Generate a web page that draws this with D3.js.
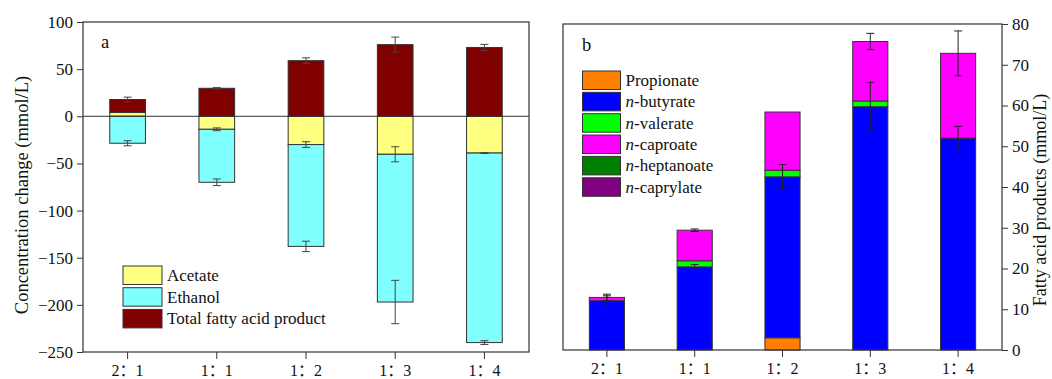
<!DOCTYPE html>
<html>
<head>
<meta charset="utf-8">
<script src="https://cdn.jsdelivr.net/npm/d3@7/dist/d3.min.js"></script>
<style>
  html, body { margin: 0; padding: 0; background: #fff; }
  svg { display: block; }
  text { font-family: "Liberation Serif", "Noto Sans CJK SC", serif; fill: #111; }
</style>
</head>
<body>
<svg id="chart" width="1052" height="379"></svg>
<script>
// ---- Data ----
const categories = ["2：1", "1：1", "1：2", "1：3", "1：4"];

// Panel a: concentration change (mmol/L)
const acetate  = [4.0, -13.8, -30.0, -40.3, -39.0];
const ethanol  = [-28.6, -56.2, -108.0, -156.7, -201.0];
const totalFA  = [13.8, 29.7, 59.0, 76.0, 73.0];
const acetateErr = [0, 1.5, 3.0, 8.0, 0.5];
const ethanolErr = [2.7, 3.5, 5.5, 23.0, 2.0];
const totalFAErr = [2.5, 0.7, 3.0, 8.0, 3.3];
const ticksA = [100, 50, 0, -50, -100, -150, -200, -250];

// Panel b: fatty acid products (mmol/L)
const propionate = [0, 0, 3.0, 0, 0];
const butyrate   = [12.1, 20.4, 39.5, 59.7, 52.0];
const valerate   = [0, 1.5, 1.6, 1.4, 0];
const caproate   = [0.8, 7.5, 14.3, 14.6, 20.8];
const heptanoate = [0, 0, 0, 0, 0];
const caprylate  = [0, 0, 0, 0, 0];
const butyrateErr = [1.2, 0.6, 3.0, 6.0, 2.9];
const topErrB     = [0.8, 0.3, 0, 2.0, 5.5];
const ticksB = [0, 10, 20, 30, 40, 50, 60, 70, 80];

// ---- Drawing ----
const svg = d3.select("#chart");
svg.append("rect").attr("width", 1052).attr("height", 379).attr("fill", "#fff");

const FS = 17;
const stroke = "#333";
const fontStack = '"Liberation Serif", "Noto Sans CJK SC", serif';

function errorBar(g, x, yScale, v, e, color) {
  if (!e) return;
  const y1 = yScale(v - e), y2 = yScale(v + e);
  g.append("line").attr("x1", x).attr("x2", x).attr("y1", y1).attr("y2", y2)
    .attr("stroke", color).attr("stroke-width", 1);
  [y1, y2].forEach(y => g.append("line").attr("x1", x - 4).attr("x2", x + 4)
    .attr("y1", y).attr("y2", y).attr("stroke", color).attr("stroke-width", 1));
}

function styleAxis(a) {
  a.select(".domain").remove();
  a.selectAll("line").attr("stroke", "#333");
  a.selectAll("text").attr("font-size", FS).attr("font-family", fontStack).attr("fill", "#111");
}

// category labels sit just above the bottom edge
function styleCatAxis(a) {
  styleAxis(a);
  a.selectAll("text").attr("font-size", 16).attr("dy", null).attr("y", 24);
}

// ===== Panel a =====
{
  const L = 83, R = 529, T = 22, B = 352;
  const x = d3.scaleBand().domain(categories).range([L, R]).paddingInner(0.6).paddingOuter(0.3);
  const y = d3.scaleLinear().domain([-250, 100]).range([B, T]);
  const g = svg.append("g");

  const keys = ["acetate", "ethanol", "total"];
  const colors = { acetate: "#FFFF80", ethanol: "#80FFFF", total: "#800000" };
  const rows = categories.map((c, i) => ({ cat: c, acetate: acetate[i], ethanol: ethanol[i], total: totalFA[i] }));
  const stack = d3.stack().keys(keys).offset(d3.stackOffsetDiverging)(rows);

  stack.forEach(s => {
    g.selectAll(null).data(s.filter(d => d[1] !== d[0])).enter().append("rect")
      .attr("x", d => x(d.data.cat))
      .attr("width", x.bandwidth())
      .attr("y", d => y(Math.max(d[0], d[1])))
      .attr("height", d => Math.abs(y(d[0]) - y(d[1])))
      .attr("fill", colors[s.key])
      .attr("stroke", stroke).attr("stroke-width", 1);
  });

  // zero line
  g.append("line").attr("x1", L).attr("x2", R).attr("y1", y(0)).attr("y2", y(0))
    .attr("stroke", "#333").attr("stroke-width", 1);

  // error bars at the outer end of each segment
  const errs = { acetate: acetateErr, ethanol: ethanolErr, total: totalFAErr };
  stack.forEach(s => {
    s.forEach((d, i) => {
      const v = rows[i][s.key];
      const end = v >= 0 ? d[1] : d[0];
      errorBar(g, x(d.data.cat) + x.bandwidth() / 2, y, end, errs[s.key][i], "#444");
    });
  });

  // frame
  g.append("rect").attr("x", L).attr("y", T).attr("width", R - L).attr("height", B - T)
    .attr("fill", "none").attr("stroke", "#333").attr("stroke-width", 1.2);

  const ay = g.append("g").attr("transform", `translate(${L},0)`)
    .call(d3.axisLeft(y).tickValues(ticksA).tickSize(6).tickPadding(4));
  const ax = g.append("g").attr("transform", `translate(0,${B})`)
    .call(d3.axisBottom(x).tickSize(7).tickPadding(4));
  styleAxis(ay);
  styleCatAxis(ax);

  g.append("text").attr("x", 101).attr("y", 47.5).attr("font-size", 18.5).text("a");

  g.append("text").attr("transform", `translate(28,195) rotate(-90)`)
    .attr("text-anchor", "middle").attr("font-size", 18.5)
    .text("Concentration change (mmol/L)");

  const legendA = [["Acetate", "acetate"], ["Ethanol", "ethanol"], ["Total fatty acid product", "total"]];
  legendA.forEach(([label, key], i) => {
    const yy = 266 + i * 21.7;
    g.append("rect").attr("x", 123).attr("y", yy).attr("width", 39).attr("height", 18.5)
      .attr("fill", colors[key]).attr("stroke", stroke).attr("stroke-width", 1);
    g.append("text").attr("x", 167).attr("y", yy + 15).attr("font-size", FS).text(label);
  });
}

// ===== Panel b =====
{
  const L = 563, R = 1002, T = 24, B = 350;
  const x = d3.scaleBand().domain(categories).range([L, R]).paddingInner(0.6).paddingOuter(0.3);
  const y = d3.scaleLinear().domain([0, 80]).range([B, T]);
  const g = svg.append("g");

  const series = [
    { key: "propionate", label: "Propionate", italic: false, color: "#FF8000", values: propionate },
    { key: "butyrate",   label: "-butyrate",  italic: true,  color: "#0000FF", values: butyrate },
    { key: "valerate",   label: "-valerate",  italic: true,  color: "#00FF00", values: valerate },
    { key: "caproate",   label: "-caproate",  italic: true,  color: "#FF00FF", values: caproate },
    { key: "heptanoate", label: "-heptanoate", italic: true, color: "#008000", values: heptanoate },
    { key: "caprylate",  label: "-caprylate", italic: true,  color: "#800080", values: caprylate }
  ];
  const rows = categories.map((c, i) => {
    const r = { cat: c };
    series.forEach(s => { r[s.key] = s.values[i]; });
    return r;
  });
  const stack = d3.stack().keys(series.map(s => s.key))(rows);

  stack.forEach((s, si) => {
    g.selectAll(null).data(s.filter(d => d[1] !== d[0])).enter().append("rect")
      .attr("x", d => x(d.data.cat))
      .attr("width", x.bandwidth())
      .attr("y", d => y(d[1]))
      .attr("height", d => y(d[0]) - y(d[1]))
      .attr("fill", series[si].color)
      .attr("stroke", stroke).attr("stroke-width", 1);
  });

  // error bars: n-butyrate segment top and total column top
  const butyrateStack = stack.find(s => s.key === "butyrate");
  const topStack = stack[stack.length - 1];
  categories.forEach((c, i) => {
    const cx = x(c) + x.bandwidth() / 2;
    errorBar(g, cx, y, butyrateStack[i][1], butyrateErr[i], "#222");
    errorBar(g, cx, y, topStack[i][1], topErrB[i], "#222");
  });

  g.append("rect").attr("x", L).attr("y", T).attr("width", R - L).attr("height", B - T)
    .attr("fill", "none").attr("stroke", "#333").attr("stroke-width", 1.2);

  const ay = g.append("g").attr("transform", `translate(${R},0)`)
    .call(d3.axisRight(y).tickValues(ticksB).tickSize(6).tickPadding(4));
  const ax = g.append("g").attr("transform", `translate(0,${B})`)
    .call(d3.axisBottom(x).tickSize(7).tickPadding(4));
  styleAxis(ay);
  styleCatAxis(ax);

  g.append("text").attr("x", 582).attr("y", 50.5).attr("font-size", 18.5).text("b");

  g.append("text").attr("transform", `translate(1046,200) rotate(-90)`)
    .attr("text-anchor", "middle").attr("font-size", 18)
    .text("Fatty acid products (mmol/L)");

  series.forEach((s, i) => {
    const yy = 71 + i * 21.35;
    g.append("rect").attr("x", 582.5).attr("y", yy).attr("width", 38).attr("height", 18.5)
      .attr("fill", s.color).attr("stroke", stroke).attr("stroke-width", 1);
    const t = g.append("text").attr("x", 625.5).attr("y", yy + 15).attr("font-size", FS);
    if (s.italic) t.append("tspan").attr("font-style", "italic").text("n");
    t.append("tspan").text(s.label);
  });
}
</script>
</body>
</html>
